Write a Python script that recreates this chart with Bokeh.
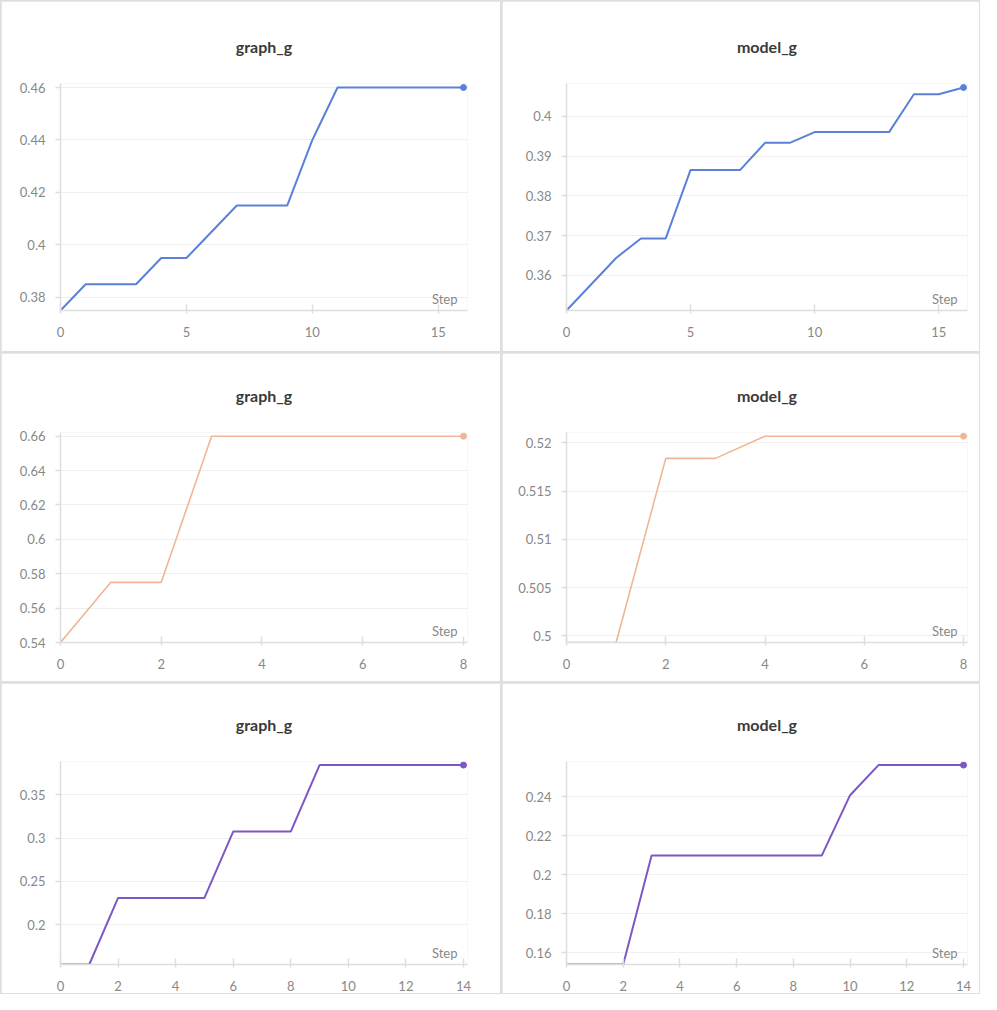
from bokeh.plotting import figure
from bokeh.models import Range1d, FixedTicker, CustomJSTickFormatter, Label, GridBox
from bokeh.embed import file_html
from bokeh.resources import INLINE

# ---- data ----
steps_a = list(range(17))
graph_a = [0.375, 0.385, 0.385, 0.385, 0.395, 0.395, 0.405, 0.415, 0.415, 0.415,
           0.44, 0.46, 0.46, 0.46, 0.46, 0.46, 0.46]
model_a = [0.3512, 0.3578, 0.3644, 0.3693, 0.3693, 0.3865, 0.3865, 0.3865, 0.3933,
           0.3933, 0.396, 0.396, 0.396, 0.396, 0.4055, 0.4055, 0.4072]

steps_b = list(range(9))
graph_b = [0.54, 0.575, 0.575, 0.66, 0.66, 0.66, 0.66, 0.66, 0.66]
model_b = [0.4993, 0.4993, 0.5184, 0.5184, 0.5207, 0.5207, 0.5207, 0.5207, 0.5207]

steps_c = list(range(15))
graph_c = [0.1538, 0.1538, 0.2308, 0.2308, 0.2308, 0.2308, 0.3077, 0.3077, 0.3077,
           0.3846, 0.3846, 0.3846, 0.3846, 0.3846, 0.3846]
model_c = [0.1541, 0.1541, 0.1541, 0.2098, 0.2098, 0.2098, 0.2098, 0.2098, 0.2098,
           0.2098, 0.2407, 0.2561, 0.2561, 0.2561, 0.2561]

# tick labels
xticks_a = [0, 5, 10, 15]
xticks_b = [0, 2, 4, 6, 8]
xticks_c = [0, 2, 4, 6, 8, 10, 12, 14]
yticks_graph_a = [0.38, 0.40, 0.42, 0.44, 0.46]
yticks_model_a = [0.36, 0.37, 0.38, 0.39, 0.40]
yticks_graph_b = [0.54, 0.56, 0.58, 0.60, 0.62, 0.64, 0.66]
yticks_model_b = [0.500, 0.505, 0.510, 0.515, 0.520]
yticks_graph_c = [0.20, 0.25, 0.30, 0.35]
yticks_model_c = [0.16, 0.18, 0.20, 0.22, 0.24]

titles = ["graph_g", "model_g"]
x_label = "Step"
BLUE = "#5b80d8"
PEACH = "#f0b594"
PURPLE = "#7e57c2"
FONT = "Lato"

fmt_code = "return String(parseFloat(tick.toFixed(4)));"


def panel(title, xs, ys, color, xt, yt, w, h, left, right, top, bottom, lw=2):
    xspan = max(xs) - min(xs)
    yspan = max(ys) - min(ys)
    p = figure(width=w, height=h, output_backend="svg", toolbar_location=None,
               x_range=Range1d(min(xs), max(xs) + 0.01 * xspan),
               y_range=Range1d(min(ys), max(ys) + 0.018 * yspan),
               min_border_left=left, min_border_right=right,
               min_border_top=top, min_border_bottom=bottom,
               background_fill_color="white", border_fill_color="white")
    p.outline_line_color = None
    p.title.text = title
    p.title.align = "center"
    p.title.text_font = FONT
    p.title.text_font_size = "16px"
    p.title.text_font_style = "bold"
    p.title.text_color = "#3a3a3a"
    p.title.standoff = 56

    p.xgrid.visible = False
    p.ygrid.grid_line_color = "#efefef"
    p.ygrid.grid_line_width = 1

    p.xaxis.ticker = FixedTicker(ticks=xt)
    p.yaxis.ticker = FixedTicker(ticks=yt)
    p.yaxis.formatter = CustomJSTickFormatter(code=fmt_code)
    for ax in (p.xaxis[0], p.yaxis[0]):
        ax.axis_line_color = "#dddddd"
        ax.axis_line_width = 1.5
        ax.major_tick_line_color = "#dddddd"
        ax.major_tick_line_width = 1.5
        ax.minor_tick_line_color = None
        ax.major_label_text_font = FONT
        ax.major_label_text_font_size = "13px"
        ax.major_label_text_color = "#888888"
    p.xaxis.major_tick_in = 6
    p.xaxis.major_tick_out = 3
    p.xaxis.major_label_standoff = 13
    p.yaxis.major_tick_in = 0
    p.yaxis.major_tick_out = 5
    p.yaxis.major_label_standoff = 10

    p.line(xs, ys, line_color=color, line_width=lw)
    p.scatter([xs[-1]], [ys[-1]], size=6, color=color)

    p.add_layout(Label(x=max(xs), y=min(ys), x_offset=-6, y_offset=4, text=x_label,
                       text_align="right", text_baseline="bottom",
                       text_font=FONT, text_font_size="13px", text_color="#888888"))
    return p


W1, W2 = 499, 477
H1, H2, H3 = 350, 328, 310

p1 = panel(titles[0], steps_a, graph_a, BLUE, xticks_a, yticks_graph_a, W1, H1, 59, 33, 82, 41)
p2 = panel(titles[1], steps_a, model_a, BLUE, xticks_a, yticks_model_a, W2, H1, 61, 12, 82, 41)
p3 = panel(titles[0], steps_b, graph_b, PEACH, xticks_b, yticks_graph_b, W1, H2, 56, 29, 79, 39, lw=1.6)
p4 = panel(titles[1], steps_b, model_b, PEACH, xticks_b, yticks_model_b, W2, H2, 64, 8, 79, 39, lw=1.6)
p5 = panel(titles[0], steps_c, graph_c, PURPLE, xticks_c, yticks_graph_c, W1, H3, 54, 30, 78, 29)
p6 = panel(titles[1], steps_c, model_c, PURPLE, xticks_c, yticks_model_c, W2, H3, 57, 10, 78, 29)

grid = GridBox(children=[(p1, 0, 0), (p2, 0, 1), (p3, 1, 0), (p4, 1, 1), (p5, 2, 0), (p6, 2, 1)],
               spacing=2,
               styles={"background-color": "#dedede", "padding": "1px"})

open("out.html", "w").write(file_html(grid, INLINE))
